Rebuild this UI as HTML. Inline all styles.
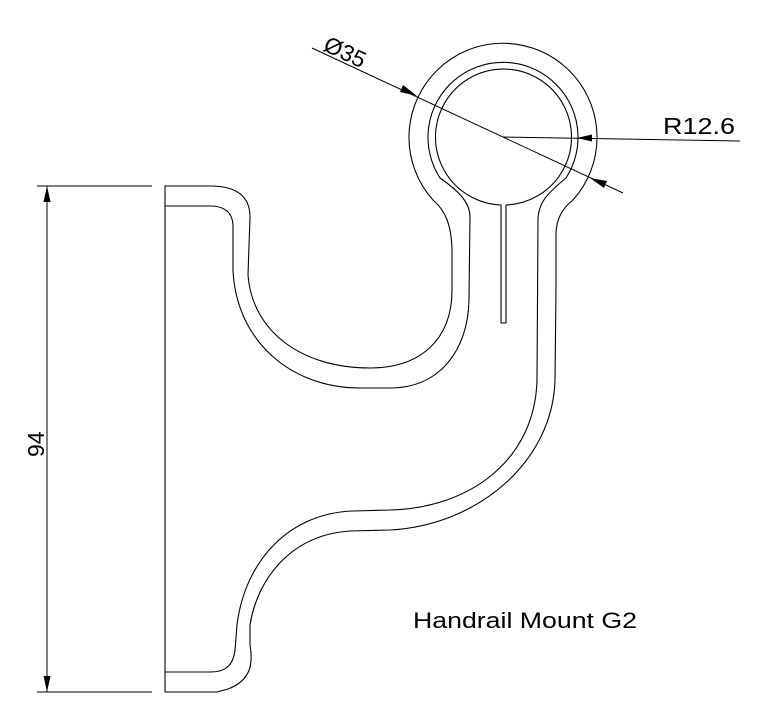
<!DOCTYPE html>
<html><head><meta charset="utf-8"><style>html,body{margin:0;padding:0;background:#fff}svg{display:block}</style></head>
<body>
<svg width="773" height="708" viewBox="0 0 773 708" xmlns="http://www.w3.org/2000/svg">
<g fill="none" stroke="#000" stroke-width="1.1" stroke-linejoin="round">
<path d="M165,186 L210,186 Q250,186 250,217 L248,275 C252,330 300,368 370,368 C420,368 452,340 452,290 L452,253 C452,225 445,210 433,200 A94,94 0 1 1 573,200 C563,208 556,218 556,235 L556,287 L555,380 C553,460 480,525 390,530 L350,531 C290,535 257,580 250,625 L250,645 C253,662 252,680 228,689 L217,692 L165,692 Z"/>
<path d="M165,206 L210,206 Q232,206 233,225 L233,270 C236,340 290,388 360,388 L390,388 C440,388 468,350 469,300 L470,217 C470,203 460,192 440,178 A75,75 0 1 1 566,178 C552,190 538,200 538,220 L537,380 C535,460 470,508 390,510 L353,511 C290,513 245,560 237,625 L235,650 C233,666 225,672 210,672 L165,672"/>
<path d="M501,323 L501,205 A68,68 0 1 1 506,205 L506,323 Z"/>
</g>
<g stroke="#000" stroke-width="1">
<line x1="37" y1="186" x2="152" y2="186"/>
<line x1="37" y1="692" x2="152" y2="692"/>
<line x1="47" y1="186" x2="47" y2="692"/>
<line x1="312" y1="48" x2="623" y2="193"/>
<line x1="503" y1="137" x2="740" y2="141"/>
</g>
<g fill="#000">
<polygon points="47,186 43.5,202 50.5,202"/>
<polygon points="47,692 43.5,676 50.5,676"/>
<polygon points="417,96 400,92 403,85"/>
<polygon points="590,178 604,188 607,181"/>
<polygon points="577,138 592,134.5 592,141.5"/>
</g>
<g font-family="Liberation Sans, Arial, sans-serif" fill="#000">
<text x="663" y="134" font-size="23" textLength="72" lengthAdjust="spacingAndGlyphs">R12.6</text>
<text transform="translate(322,50) rotate(25)" font-size="23">Ø35</text>
<text transform="translate(44,457) rotate(-90)" font-size="23">94</text>
<text x="413" y="628" font-size="22" textLength="224" lengthAdjust="spacingAndGlyphs">Handrail Mount G2</text>
</g>
</svg>
</body></html>
